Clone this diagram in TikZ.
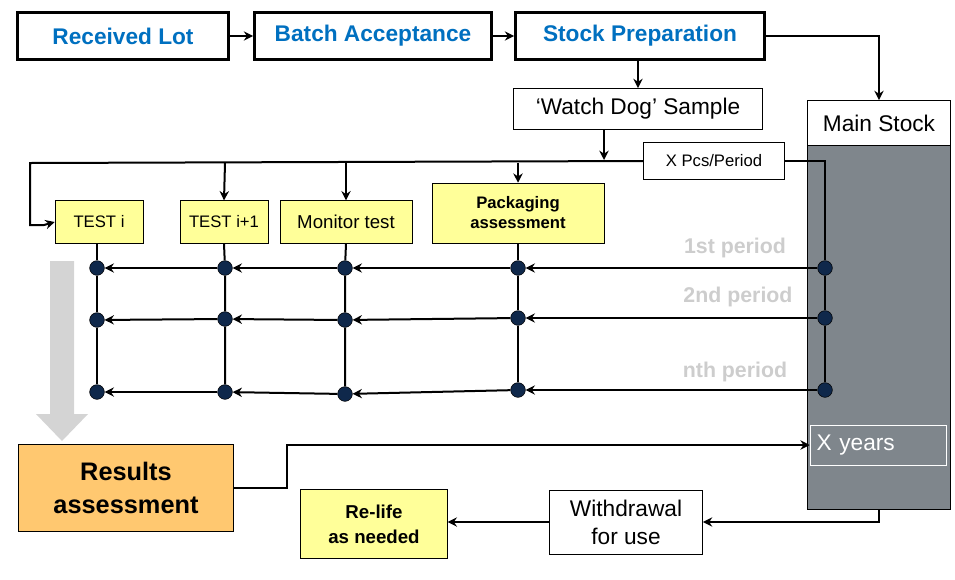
\documentclass[tikz,border=0pt]{standalone}
\usepackage{fontspec}
\setmainfont{Liberation Sans}
\usetikzlibrary{arrows.meta,shapes,calc}
\definecolor{hdblue}{RGB}{0,112,192}
\definecolor{stockgray}{RGB}{127,134,140}
\definecolor{testyellow}{RGB}{255,255,153}
\definecolor{resorange}{RGB}{255,200,112}
\definecolor{pergray}{RGB}{205,205,205}
\definecolor{dotblue}{RGB}{15,40,75}
\tikzset{
	stepbox/.style={draw,line width=1.8pt,fill=white,font=\bfseries\fontsize{17}{19}\selectfont,text=hdblue,inner sep=0},
	plainbox/.style={draw,thin,fill=white,inner sep=0,align=center},
	testbox/.style={draw,thin,fill=testyellow,inner sep=0,align=center},
	dot/.style={circle,fill=dotblue,draw=black,inner sep=0,minimum size=11pt},
	flow/.style={-{Stealth[width=7pt,length=7pt]},line width=1.5pt},
	link/.style={line width=1.5pt},
	perlabel/.style={text=pergray,font=\bfseries\fontsize{16}{18}\selectfont}
}
\begin{document}
\begin{tikzpicture}[x=0.75pt,y=-0.75pt]
	\useasboundingbox (0,0) rectangle (955,579);
	%%%% top row
	\node[stepbox,minimum width=158pt,minimum height=35pt] (lot) at (123,36) {Received Lot};
	\node[stepbox,minimum width=178pt,minimum height=35pt] (acc) at (373,36) {Batch Acceptance};
	\node[stepbox,minimum width=187pt,minimum height=35pt] (prep) at (640,36) {Stock Preparation};
	\draw[flow] (lot) -- (acc);
	\draw[flow] (acc) -- (prep);
	
	%%%% stock column
	\node[draw,thin,fill=stockgray,minimum width=107pt,minimum height=274pt,inner sep=0] (col) at (879,327) {};
	\node[plainbox,minimum width=107pt,minimum height=34pt,font=\fontsize{17}{19}\selectfont] (stock) at (879,123) {Main Stock};
	\node[draw=white,fill=stockgray,text=white,minimum width=102pt,minimum height=30pt,inner sep=0,font=\fontsize{17}{19}\selectfont,text width=92pt] (years) at (878,445) {X years};
	\draw[flow] (prep.east) -| (stock.north);
	
	%%%% sampling
	\node[plainbox,minimum width=187pt,minimum height=31pt,font=\fontsize{17}{19}\selectfont] (dog) at (638,109) {‘Watch Dog’ Sample};
	\draw[flow] (prep.south -| dog) -- (dog);
	\node[plainbox,minimum width=106pt,minimum height=28pt,font=\fontsize{12.5}{14}\selectfont] (pcs) at (714,161) {X Pcs/Period};
	\coordinate (dogout) at (604,130);
	\draw[flow] (dogout) -- (604,160);
	
	%%%% tests
	\node[testbox,minimum width=66pt,minimum height=32pt,font=\fontsize{12.5}{14}\selectfont] (ti) at (99,222) {TEST i};
	\node[testbox,minimum width=66pt,minimum height=32pt,font=\fontsize{12.5}{14}\selectfont] (tj) at (224,222) {TEST i+1};
	\node[testbox,minimum width=99pt,minimum height=32pt,font=\fontsize{14}{16}\selectfont] (mon) at (346,222) {Monitor test};
	\node[testbox,minimum width=129pt,minimum height=45pt,font=\bfseries\fontsize{12.5}{15}\selectfont] (pack) at (518,213) {Packaging\\assessment};
	\draw[link] (pcs.west) -- (30,163) |- (44,225);
	\draw[flow] (44,225) -- (ti.west);
	\draw[flow] (225,163) -- (tj.north);
	\draw[flow] (346,163) -- (mon.north);
	\draw[flow] (518,163) -- (pack.north);
	
	%%%% grid of periods
	\foreach \n/\x/\a/\b/\c in {a/97/268/320/392, b/225/268/319/392, c/345/268/320/394, d/518/268/318/390, e/825/268/318/390}{
		\node[dot] (\n1) at (\x,\a) {};
		\node[dot] (\n2) at (\x,\b) {};
		\node[dot] (\n3) at (\x,\c) {};
	}
	\draw[link] (pcs.east) -| (e1) -- (e2) -- (e3);
	\draw[link] (ti.south -| a1) -- (a1) -- (a2) -- (a3);
	\draw[link] (tj.south) -- (b1) -- (b2) -- (b3);
	\draw[link] (mon.south) -- (c1) -- (c2) -- (c3);
	\draw[link] (pack.south) -- (d1) -- (d2) -- (d3);
	\foreach \r in {1,2,3}{
		\draw[flow] (e\r) -- (d\r);
		\draw[flow] (d\r) -- (c\r);
		\draw[flow] (c\r) -- (b\r);
		\draw[flow] (b\r) -- (a\r);
	}
	\node[perlabel] (p1) at (735,248) {1st period};
	\node[perlabel] (p2) at (738,297) {2nd period};
	\node[perlabel] (p3) at (735,372) {nth period};
	
	%%%% results
	\fill[pergray!85] (50,261) -- (74,261) -- (74,414) -- (88,414) -- (62,441) -- (36,414) -- (50,414) -- cycle;
	\node[draw,thin,fill=resorange,minimum width=161pt,minimum height=65pt,inner sep=0,align=center,font=\bfseries\fontsize{19}{25}\selectfont] (res) at (126,488) {Results\\assessment};
	\draw[flow] (res.east) -- (287,488) |- (years.west);
	
	%%%% withdrawal
	\node[plainbox,minimum width=115pt,minimum height=48pt,font=\fontsize{17}{21}\selectfont] (wd) at (626,522) {Withdrawal\\for use};
	\node[testbox,minimum width=110pt,minimum height=52pt,font=\bfseries\fontsize{14}{19}\selectfont] (relife) at (374,524) {Re-life\\as needed};
	\draw[flow] (col.south) |- (wd.east);
	\draw[flow] (wd) -- (relife.east |- wd);
\end{tikzpicture}
\end{document}
